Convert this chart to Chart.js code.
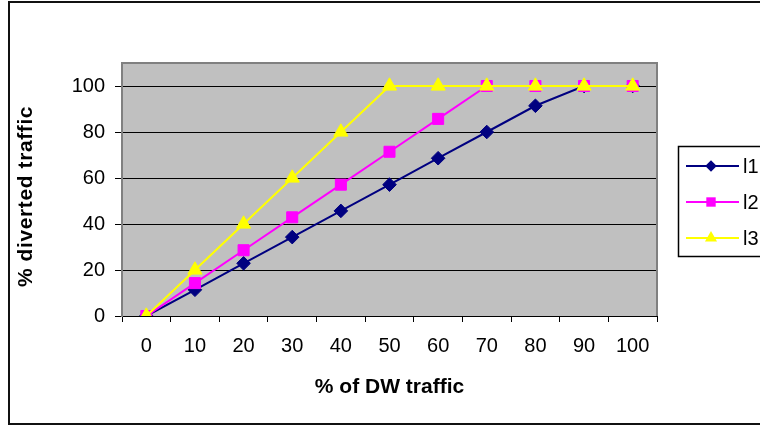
<!DOCTYPE html>
<html>
<head>
<meta charset="utf-8">
<script src="https://cdn.jsdelivr.net/npm/chart.js@4/dist/chart.umd.min.js"></script>
<style>
  html, body { margin: 0; padding: 0; background: #fff; overflow: hidden; }
  #frame {
    position: absolute; left: 8px; top: 1px; width: 800px; height: 424px;
    border: 2px solid #111; box-sizing: border-box;
  }
  #c { position: absolute; left: 0; top: 0; }
</style>
</head>
<body>
<div id="frame"></div>
<canvas id="c" width="760" height="428"></canvas>
<script>
// Share of DW traffic (category axis)
const categories = ['0', '10', '20', '30', '40', '50', '60', '70', '80', '90', '100'];
// Diverted traffic for each series (%)
const l1 = [0, 11.4, 22.9, 34.3, 45.7, 57.1, 68.6, 80, 91.4, 100, 100];
const l2 = [0, 14.3, 28.6, 42.9, 57.1, 71.4, 85.7, 100, 100, 100, 100];
const l3 = [0, 20, 40, 60, 80, 100, 100, 100, 100, 100, 100];
const seriesNames = ['l1', 'l2', 'l3'];
const yTicks = [0, 20, 40, 60, 80, 100];
const yTitle = '% diverted traffic';

const FONT = "'Liberation Sans', Arial, sans-serif";

// Grey plot background and its frame
const plotFrame = {
  id: 'plotFrame',
  beforeDraw(chart) {
    const { ctx, chartArea: a } = chart;
    ctx.save();
    ctx.fillStyle = '#c0c0c0';
    ctx.fillRect(a.left, a.top, a.right - a.left, a.bottom - a.top);
    ctx.restore();
  },
  beforeDatasetsDraw(chart) {
    const { ctx, chartArea: a } = chart;
    ctx.save();
    ctx.strokeStyle = '#808080';
    ctx.lineWidth = 2;
    ctx.beginPath();
    ctx.moveTo(a.left, a.top);
    ctx.lineTo(a.right, a.top);
    ctx.lineTo(a.right, a.bottom);
    ctx.stroke();
    ctx.restore();
  }
};

// Vertical axis title, set a little below the plot centre
const sideTitle = {
  id: 'sideTitle',
  afterDraw(chart) {
    const { ctx, chartArea: a } = chart;
    ctx.save();
    ctx.translate(26, (a.top + a.bottom) / 2 + 7);
    ctx.rotate(-Math.PI / 2);
    ctx.fillStyle = '#000';
    ctx.font = 'bold 21px ' + FONT;
    try { ctx.letterSpacing = '0.6px'; } catch (e) {}
    ctx.textAlign = 'center';
    ctx.textBaseline = 'middle';
    ctx.fillText(yTitle, 0, 0);
    ctx.restore();
  }
};

function marker(ctx, style, r, x, y, color) {
  ctx.fillStyle = color;
  ctx.beginPath();
  if (style === 'rectRot') {
    ctx.moveTo(x, y - r); ctx.lineTo(x + r, y); ctx.lineTo(x, y + r); ctx.lineTo(x - r, y);
  } else if (style === 'rect') {
    const s = Math.SQRT1_2 * r;
    ctx.rect(x - s, y - s, 2 * s, 2 * s);
  } else {
    const h = r * Math.sqrt(3) / 2;
    ctx.moveTo(x, y - r); ctx.lineTo(x + h, y + r / 2); ctx.lineTo(x - h, y + r / 2);
  }
  ctx.closePath();
  ctx.fill();
}

// Boxed legend on the right
const boxLegend = {
  id: 'boxLegend',
  afterDraw(chart) {
    const ctx = chart.ctx;
    ctx.save();
    ctx.strokeStyle = '#000';
    ctx.lineWidth = 1.5;
    ctx.strokeRect(678.5, 146.5, 120, 110);
    chart.data.datasets.forEach((ds, i) => {
      const y = 166 + i * 36;
      ctx.strokeStyle = ds.borderColor;
      ctx.lineWidth = 2;
      ctx.beginPath();
      ctx.moveTo(686, y);
      ctx.lineTo(739, y);
      ctx.stroke();
      marker(ctx, ds.pointStyle, ds.pointRadius * 0.85, 711, y, ds.backgroundColor);
      ctx.fillStyle = '#000';
      ctx.font = '20px ' + FONT;
      ctx.textBaseline = 'middle';
      ctx.textAlign = 'left';
      ctx.fillText(ds.label, 743, y + 1);
    });
    ctx.restore();
  }
};

const makeSet = (i, data, color, style, radius, order) => ({
  label: seriesNames[i],
  data,
  borderColor: color,
  backgroundColor: color,
  borderWidth: 2,
  pointStyle: style,
  pointRadius: radius,
  pointBorderWidth: 1,
  pointBorderColor: color,
  pointBackgroundColor: color,
  tension: 0,
  order
});

new Chart(document.getElementById('c'), {
  type: 'line',
  data: {
    labels: categories,
    datasets: [
      makeSet(0, l1, '#000080', 'rectRot', 6.8, 3),
      makeSet(1, l2, '#ff00ff', 'rect', 7.8, 2),
      makeSet(2, l3, '#ffff00', 'triangle', 8.2, 1)
    ]
  },
  options: {
    responsive: false,
    animation: false,
    layout: { padding: { left: 0, top: 63, right: 103, bottom: 0 } },
    plugins: { legend: { display: false }, tooltip: { enabled: false } },
    scales: {
      x: {
        type: 'category',
        offset: true,
        afterFit: s => { s.height = 112; },
        grid: { offset: true, drawOnChartArea: false, drawTicks: true, tickLength: 6, color: '#000', lineWidth: 1 },
        border: { color: '#000', width: 1 },
        ticks: { color: '#000', padding: 12, font: { family: FONT, size: 20 }, maxRotation: 0, autoSkip: false },
        title: {
          display: true, text: '% of DW traffic', color: '#000',
          font: { family: FONT, size: 21, weight: 'bold' }, padding: { top: 0, bottom: 28 }
        }
      },
      y: {
        min: 0, max: 110,
        afterBuildTicks: s => { s.ticks = yTicks.map(v => ({ value: v })); },
        afterFit: s => { s.width = 122; },
        grid: { color: '#000', lineWidth: 1, tickLength: 7, drawTicks: true },
        border: { color: '#808080', width: 2 },
        ticks: { color: '#000', padding: 10, font: { family: FONT, size: 20 } },
        title: { display: false }
      }
    }
  },
  plugins: [plotFrame, sideTitle, boxLegend]
});
</script>
</body>
</html>
